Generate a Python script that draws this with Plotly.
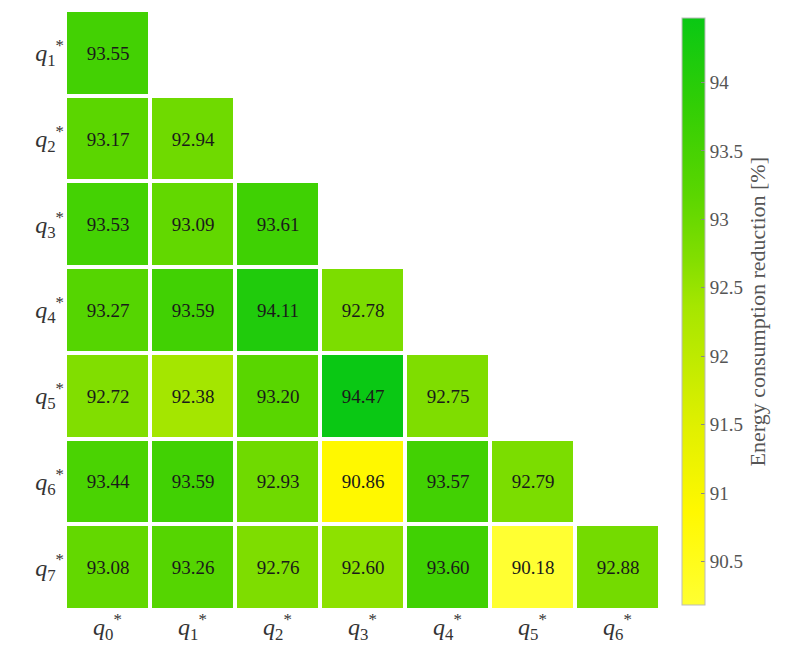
import plotly.graph_objects as go

cols = ["q0", "q1", "q2", "q3", "q4", "q5", "q6"]
rows = ["q1", "q2", "q3", "q4", "q5", "q6", "q7"]
col_labels = ["<i>q</i><sub>0</sub><sup>*</sup>", "<i>q</i><sub>1</sub><sup>*</sup>",
              "<i>q</i><sub>2</sub><sup>*</sup>", "<i>q</i><sub>3</sub><sup>*</sup>",
              "<i>q</i><sub>4</sub><sup>*</sup>", "<i>q</i><sub>5</sub><sup>*</sup>",
              "<i>q</i><sub>6</sub><sup>*</sup>"]
row_labels = ["<i>q</i><sub>1</sub><sup>*</sup>", "<i>q</i><sub>2</sub><sup>*</sup>",
              "<i>q</i><sub>3</sub><sup>*</sup>", "<i>q</i><sub>4</sub><sup>*</sup>",
              "<i>q</i><sub>5</sub><sup>*</sup>", "<i>q</i><sub>6</sub><sup>*</sup>",
              "<i>q</i><sub>7</sub><sup>*</sup>"]

row_q1 = [93.55]
row_q2 = [93.17, 92.94]
row_q3 = [93.53, 93.09, 93.61]
row_q4 = [93.27, 93.59, 94.11, 92.78]
row_q5 = [92.72, 92.38, 93.20, 94.47, 92.75]
row_q6 = [93.44, 93.59, 92.93, 90.86, 93.57, 92.79]
row_q7 = [93.08, 93.26, 92.76, 92.60, 93.60, 90.18, 92.88]

cb_ticks = [90.5, 91, 91.5, 92, 92.5, 93, 93.5, 94]

data_rows = [row_q1, row_q2, row_q3, row_q4, row_q5, row_q6, row_q7]
z = [r + [None] * (len(cols) - len(r)) for r in data_rows]

SERIF = "Liberation Serif, Times New Roman, DejaVu Serif, serif"

colorscale = [
    [0.00, "rgb(255,255,50)"],
    [0.16, "rgb(255,248,0)"],
    [0.30, "rgb(225,240,0)"],
    [0.51, "rgb(165,230,0)"],
    [0.59, "rgb(130,222,0)"],
    [0.70, "rgb(90,214,0)"],
    [0.85, "rgb(50,206,5)"],
    [1.00, "rgb(10,200,20)"],
]

fig = go.Figure(go.Heatmap(
    z=z, x=cols, y=rows,
    xgap=4, ygap=4,
    colorscale=colorscale,
    zmin=90.18, zmax=94.47,
    texttemplate="%{z:.2f}",
    textfont=dict(family=SERIF, size=19, color="#1a1a1a"),
    hoverongaps=False,
    colorbar=dict(
        x=1.02, xanchor="left", y=1.003, yanchor="top",
        len=1.012, lenmode="fraction", thickness=23,
        outlinewidth=1, outlinecolor="#bbbbbb",
        tickvals=cb_ticks, ticktext=[str(t) for t in cb_ticks],
        ticks="inside", ticklen=4, tickcolor="#888888",
        tickfont=dict(family=SERIF, size=19, color="#555555"),
        title=dict(text="Energy consumption reduction [%]", side="right",
                   font=dict(family=SERIF, size=22, color="#555555")),
    ),
))

fig.update_layout(
    width=796, height=663,
    margin=dict(l=65, r=136, t=8, b=53),
    plot_bgcolor="white", paper_bgcolor="white",
    xaxis=dict(tickvals=cols, ticktext=col_labels, showgrid=False, zeroline=False,
               tickfont=dict(family=SERIF, size=24, color="#333333"),
               ticklen=0, showline=False),
    yaxis=dict(tickvals=rows, ticktext=row_labels, autorange="reversed", showgrid=False,
               zeroline=False, tickfont=dict(family=SERIF, size=24, color="#333333"),
               ticklen=0, showline=False),
)

fig.write_html("out.html")
